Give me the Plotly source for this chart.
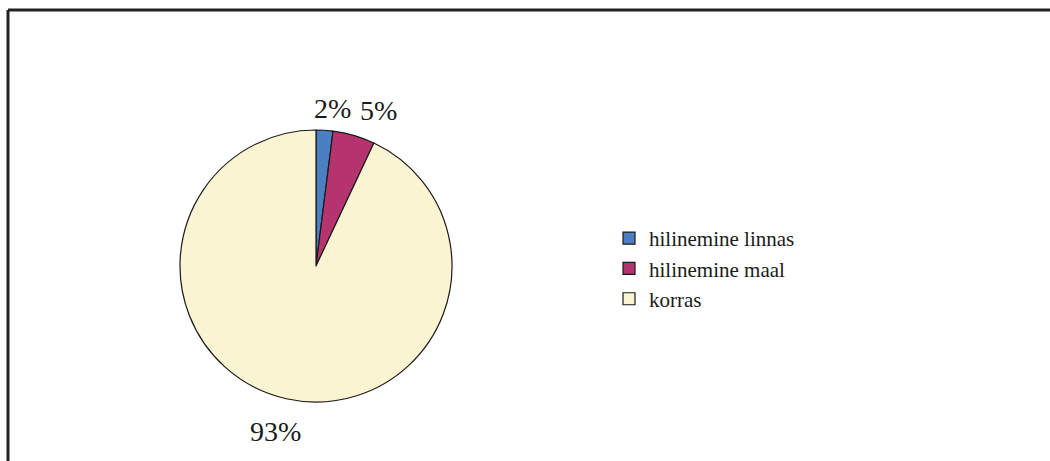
import math
import plotly.graph_objects as go

# Category shares (percent)
categories = ["hilinemine linnas", "hilinemine maal", "korras"]
shares = [2, 5, 93]
colors = ["#4a7fc1", "#b5346f", "#faf4d2"]

W, H = 1050, 461
SERIF = "Times New Roman, Liberation Serif, DejaVu Serif, serif"

# Pie placement (pixels, margins are zero so paper == pixels)
cx, cy, r = 316, 266, 136

fig = go.Figure(
    go.Pie(
        labels=categories,
        values=shares,
        sort=False,
        direction="clockwise",
        rotation=0,
        marker=dict(colors=colors, line=dict(color="#1a1a1a", width=1.2)),
        textinfo="none",
        hoverinfo="label+percent",
        domain=dict(x=[(cx - r) / W, (cx + r) / W], y=[1 - (cy + r) / H, 1 - (cy - r) / H]),
    )
)

# Percentage labels placed outside each slice along its mid-angle
label_radius = 165
nudges = [(6, -7), (16, -3), (-5, -4)]  # (x px, y px up) fine placement tweaks
total = sum(shares)
cum = 0
for val, (nx, ny) in zip(shares, nudges):
    mid = (cum + val / 2) / total * 2 * math.pi
    cum += val
    px = cx + label_radius * math.sin(mid)
    py = cy - label_radius * math.cos(mid)
    fig.add_annotation(
        x=px / W, y=1 - py / H, xref="paper", yref="paper",
        text=f"{round(val / total * 100)}%", showarrow=False,
        xanchor="center", yanchor="middle", xshift=nx, yshift=ny,
        font=dict(family=SERIF, size=28, color="#1a1a1a"),
    )

# Frame lines along the left and top edges
fx = 8 / W
fy = 1 - 10 / H
fig.add_shape(type="line", xref="paper", yref="paper", x0=fx, y0=-0.02, x1=fx, y1=fy,
              line=dict(color="#222222", width=3))
fig.add_shape(type="line", xref="paper", yref="paper", x0=fx, y0=fy, x1=1.02, y1=fy,
              line=dict(color="#222222", width=3))

fig.update_layout(
    width=W,
    height=H,
    margin=dict(l=0, r=0, t=0, b=0),
    paper_bgcolor="white",
    plot_bgcolor="white",
    showlegend=True,
    legend=dict(
        x=609 / W,
        y=1 - 218 / H,
        xanchor="left",
        yanchor="top",
        font=dict(family=SERIF, size=21, color="#1a1a1a"),
        bgcolor="rgba(0,0,0,0)",
        tracegroupgap=0,
    ),
)

fig.write_html("out.html")
